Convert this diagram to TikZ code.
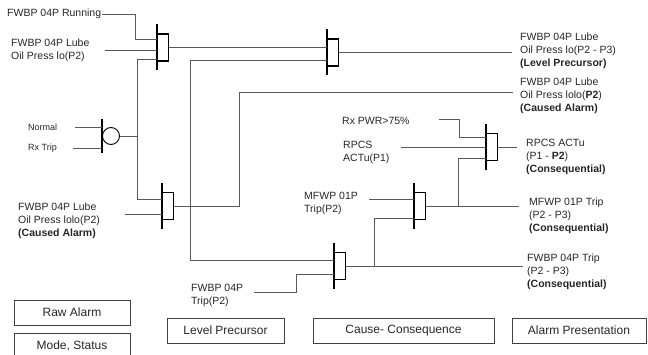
\documentclass[tikz,border=0pt]{standalone}
\usepackage{fontspec}
\setmainfont{Liberation Sans}
\tikzset{
  wire/.style={draw=black!65, line width=0.9pt},
  gatebox/.style={draw, line width=1.2pt, anchor=west, minimum width=11, minimum height=27, inner sep=0pt},
  gatebar/.style={draw, line width=1.2pt},
  orgate/.style={draw, line width=0.9pt, circle, minimum size=17, inner sep=0pt},
  lbl/.style={anchor=west, align=left, inner sep=1pt, text=black!85, font=\fontsize{10.5}{13}\selectfont},
  leyenda/.style={draw=black!75, line width=0.8pt, minimum height=25, inner sep=0pt, text=black!85, font=\fontsize{12}{14}\selectfont}
}
\begin{document}
\begin{tikzpicture}[x=1pt, y=-1pt]
    \useasboundingbox (0,0) rectangle (648,355);

    % Puertas
    \foreach \n/\x/\y in {g1/157/47.5, g2/327/52.5, g3/162/206, g4/486/147, g5/414/206, g6/334/266} {
        \node[gatebox] (\n) at (\x,\y) {};
        \draw[gatebar] ([yshift=23pt]\n.west) -- ([yshift=-23pt]\n.west);
    }
    \node[orgate] (orc) at (111,136) {};
    \draw[gatebar] ([yshift=17pt]orc.west) -- ([yshift=-17pt]orc.west);

    % Entradas
    \node (run) at (6,14) [lbl] {FWBP 04P Running};
    \node (lubelo) at (10,50) [lbl] {FWBP 04P Lube\\Oil Press lo(P2)};
    \node (normal) at (27,127) [lbl, font=\fontsize{9}{11}\selectfont] {Normal};
    \node (rxtrip) at (27,148) [lbl, font=\fontsize{9}{11}\selectfont] {Rx Trip};
    \node (lolo) at (17,221) [lbl] {FWBP 04P Lube\\Oil Press lolo(P2)\\\textbf{(Caused Alarm)}};
    \node (trip04) at (190,295) [lbl] {FWBP 04P\\Trip(P2)};
    \node (rxpwr) at (341,121) [lbl] {Rx PWR>75\%};
    \node (rpcs) at (342,152) [lbl] {RPCS\\ACTu(P1)};
    \node (mfwp) at (303,203) [lbl] {MFWP 01P\\Trip(P2)};

    % Salidas
    \node (out1) at (519,51) [lbl] {FWBP 04P Lube\\Oil Press lo(P2 - P3)\\\textbf{(Level Precursor)}};
    \node (out2) at (519,96) [lbl] {FWBP 04P Lube\\Oil Press lolo(\textbf{P2})\\\textbf{(Caused Alarm)}};
    \node (out3) at (525,157) [lbl] {RPCS ACTu\\(P1 - \textbf{P2})\\\textbf{(Consequential)}};
    \node (out4) at (528,216) [lbl] {MFWP 01P Trip\\(P2 - P3)\\\textbf{(Consequential)}};
    \node (out5) at (526,272) [lbl] {FWBP 04P Trip\\(P2 - P3)\\\textbf{(Consequential)}};

    % Conexiones
    \draw[wire] (run.east) -| (135,39) -- ([yshift=8.5pt]g1.west);
    \draw[wire] ([xshift=14pt]lubelo.east) -- (lubelo.east -| g1.west);
    \draw[wire] ([yshift=-11.5pt]g1.west) -- ++(-20,0) |- ([yshift=7pt]g3.west);
    \draw[wire] ([xshift=17pt]normal.east) -- (normal.east -| orc.west);
    \draw[wire] ([xshift=15pt]rxtrip.east) -- (rxtrip.east -| orc.west);
    \draw[wire] (orc.east) -- ++(17,0);
    \draw[wire] (g1.east) -- (g1.east -| g2.west);
    \draw[wire] ([yshift=-7.5pt]g2.west) -- ++(-137,0) |- ([yshift=6pt]g6.west);
    \draw[wire] (g2.east) -- ([xshift=-7pt]g2.east -| out1.west);
    \draw[wire] ([xshift=24pt]lolo.north east |- 0,214) -- ([yshift=-8pt]g3.west);
    \draw[wire] (g3.east) -- ++(65,0) |- ([xshift=-6pt,yshift=4pt]out2.west);
    \draw[wire] ([xshift=28pt,yshift=2pt]rxpwr.east) -- ++(21,0) |- ([yshift=10pt]g4.west);
    \draw[wire] ([xshift=10pt,yshift=5pt]rpcs.east) -- (g4.west);
    \draw[wire] ([yshift=-11pt]g4.west) -- ++(-28,0) |- (g5.east);
    \draw[wire] (g4.east) -- ++(19,0);
    \draw[wire] ([xshift=10pt,yshift=4pt]mfwp.east) -- ([yshift=7pt]g5.west);
    \draw[wire] ([yshift=-12pt]g5.west) -- ++(-40,0) |- (g6.east);
    \draw[wire] (g5.east) -- ([xshift=-9pt]g5.east -| out4.west);
    \draw[wire] (g6.east) -- ([xshift=-3pt]g6.east -| out5.west);
    \draw[wire] ([xshift=10pt,yshift=3pt]trip04.east) -- ++(42,0) |- ([yshift=-8pt]g6.west);

    % Leyenda
    \node[leyenda, minimum width=116] (raw) at (72,312.5) {Raw Alarm};
    \node[leyenda, minimum width=116] (mode) at (72,345.5) {Mode, Status};
    \node[leyenda, minimum width=117] (lvl) at (225.5,330.5) {Level Precursor};
    \node[leyenda, minimum width=181] (cause) at (403.5,330.5) {Cause- Consequence};
    \node[leyenda, minimum width=134] (pres) at (579,330.5) {Alarm Presentation};
\end{tikzpicture}
\end{document}
